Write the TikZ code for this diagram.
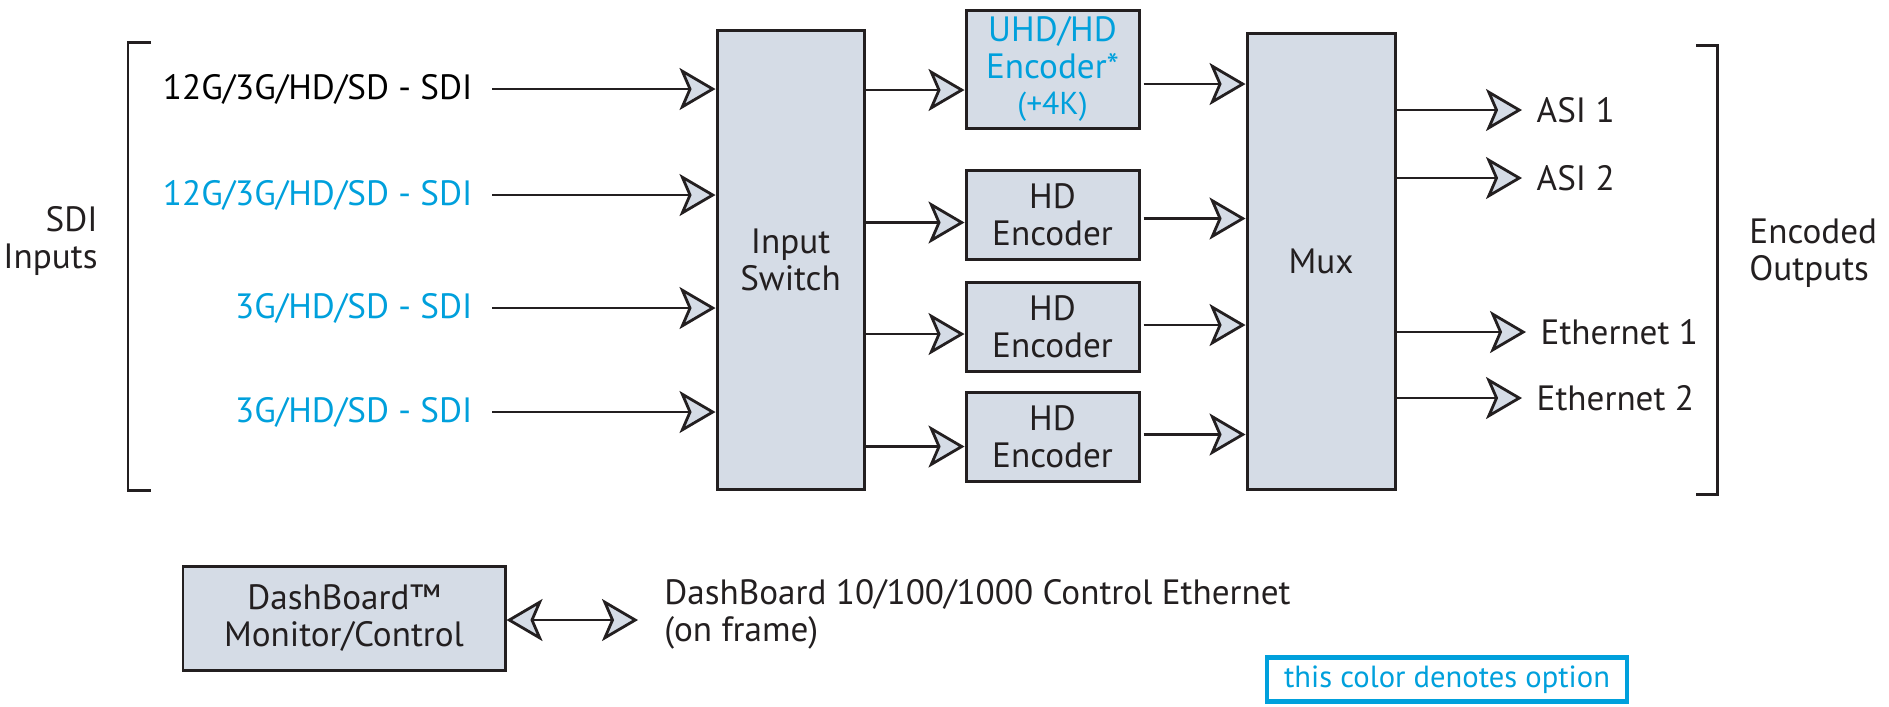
\documentclass[tikz,border=0pt]{standalone}
\usepackage{fontspec}
\setmainfont{PT Sans}
\usetikzlibrary{arrows.meta,calc,positioning}

\definecolor{box fill}{RGB}{213,220,230}
\definecolor{option}{RGB}{0,160,220}
\definecolor{ink}{RGB}{35,31,32}

\def\sdiinputs{{0.89/black/{12G/3G/HD/SD - SDI}/in1}, {1.95/option/{12G/3G/HD/SD - SDI}/in2}, {3.08/option/{3G/HD/SD - SDI}/in3}, {4.12/option/{3G/HD/SD - SDI}/in4}}
\def\encoders{{2.145/enc1}, {3.27/enc2}, {4.365/enc3}}
\def\feeds{{uhd/-0.21/-0.15}, {enc1/-0.08/-0.04}, {enc2/-0.07/0.02}, {enc3/-0.10/0.02}}
\def\outputs{{1.10/{ASI 1}/asi1/15.22}, {1.78/{ASI 2}/asi2/15.22}, {3.32/{Ethernet 1}/eth1/15.26}, {3.98/{Ethernet 2}/eth2/15.22}}

\tikzstyle{block} = [draw=ink, fill=box fill, line width=0.85pt, align=center, inner sep=0pt]
\tikzstyle{link} = [draw=ink, line width=0.8pt, ->]
\tikzstyle{port} = [inner xsep=0.19cm, inner ysep=0pt]
\tikzstyle{bracket} = [draw=ink, line width=0.85pt]

\begin{document}
\begin{tikzpicture}[font=\fontsize{10}{10.5}\selectfont, text=ink,
  >={Stealth[length=0.36cm, width=0.42cm, inset=0.09cm, fill=box fill]}]
  \useasboundingbox (0,0) rectangle (18.89,-7.06);

  % The input side
  \draw[bracket] (1.51,-0.42) -- (1.28,-0.42) -- (1.28,-4.90) -- (1.51,-4.90);
  \node[align=right, anchor=east] (sdi) at (1.10,-2.41) {SDI\\Inputs};
  \node[block, minimum width=1.47cm, minimum height=4.59cm] (switch) at (7.905,-2.595) {Input\\Switch};
  \foreach \y/\col/\txt/\name in \sdiinputs {
    \node[port, text=\col, anchor=east] (\name) at (4.92,-\y) {\txt};
    \draw[link] (\name.east) -- (switch.west |- \name.east);
  }

  % The encoders
  \node[block, text=option, minimum width=1.73cm, minimum height=1.18cm] (uhd) at (10.525,-0.69)
    {UHD/HD\\Encoder*\\{\fontsize{9}{10}\selectfont(+4K)}};
  \foreach \y/\name in \encoders
    \node[block, minimum width=1.73cm, minimum height=0.89cm] (\name) at (10.525,-\y) {HD\\Encoder};
  \node[block, minimum width=1.48cm, minimum height=4.56cm] (mux) at (13.21,-2.61) {Mux};
  \foreach \name/\inoff/\outoff in \feeds {
    \draw[link] ($(switch.east |- \name.west)+(0,\inoff)$) -- ($(\name.west)+(0,\inoff)$);
    \draw[link] ($(\name.east)+(0.03,\outoff)$) -- ($(mux.west |- \name.east)+(0,\outoff)$);
  }

  % The outputs
  \foreach \y/\txt/\name/\x in \outputs {
    \node[anchor=west, inner xsep=0.14cm] (\name) at (\x,-\y) {\txt};
    \draw[link] (mux.east |- \name.west) -- (\name.west);
  }
  \draw[bracket] (16.96,-0.45) -- (17.17,-0.45) -- (17.17,-4.94) -- (16.96,-4.94);
  \node[align=left, anchor=west] (encout) at (17.37,-2.53) {Encoded\\Outputs};

  % Control
  \node[block, minimum width=3.22cm, minimum height=1.04cm] (dash) at (3.44,-6.18) {DashBoard™\\Monitor/Control};
  \node[anchor=west, align=left] (ctrl) at (6.52,-6.14) {DashBoard 10/100/1000 Control Ethernet\\(on frame)};
  \coordinate (ctrl tip) at (6.38,-6.20);
  \draw[link, <->] (dash.east |- ctrl tip) -- (ctrl tip);

  % Legend
  \node[draw=option, line width=1.4pt, text=option, minimum width=3.6cm, minimum height=0.44cm, inner sep=0pt,
    font=\fontsize{8.7}{10}\selectfont] (legend) at (14.47,-6.795) {this color denotes option};
\end{tikzpicture}
\end{document}
